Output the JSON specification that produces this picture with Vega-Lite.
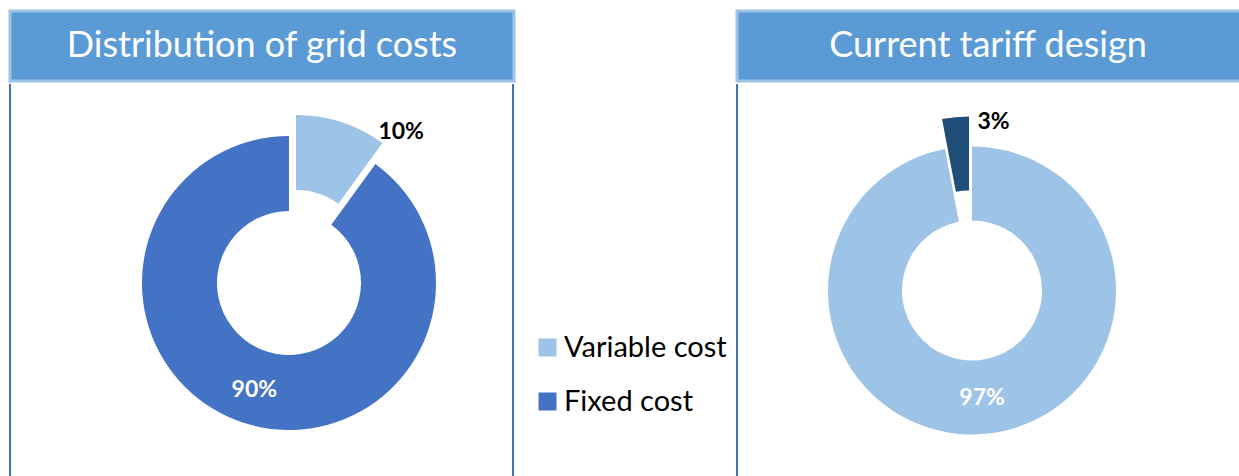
{
  "$schema": "https://vega.github.io/schema/vega-lite/v6.json",
  "padding": {"left": 8, "top": 9, "right": 0, "bottom": 0},
  "background": "white",
  "spacing": 8,
  "resolve": {"scale": {"color": "independent", "theta": "independent"}},
  "hconcat": [
    {
      "spacing": 0,
      "vconcat": [
        {
          "width": 504,
          "height": 70,
          "view": {"fill": "#5B9BD5", "stroke": "#9DC3E6", "strokeWidth": 3},
          "data": {"values": [{"t": "Distribution of grid costs"}]},
          "mark": {"type": "text", "font": "Lato", "fontSize": 36, "color": "white", "baseline": "middle", "align": "center"},
          "encoding": {"text": {"field": "t"}}
        },
        {
          "width": 503,
          "height": 396,
          "view": {"fill": "white", "stroke": "#4472C4", "strokeWidth": 2, "strokeDash": [0, 503, 1300]},
          "data": {"values": [
            {"cat": "Variable cost", "pct": 0.10},
            {"cat": "Fixed cost", "pct": 0.90}
          ]},
          "encoding": {
            "theta": {"field": "pct", "type": "quantitative", "stack": true},
            "order": {"field": "cat", "sort": "descending"}
          },
          "layer": [
            {
              "mark": {"type": "arc", "radius": 147, "radius2": 72, "xOffset": 27.5, "yOffset": 1},
              "encoding": {
                "color": {"field": "cat", "type": "nominal",
                  "scale": {"domain": ["Variable cost", "Fixed cost"], "range": ["#9DC3E6", "#4472C4"]},
                  "legend": {"orient": "none", "legendX": 523, "legendY": 322, "title": null, "symbolType": "square", "symbolSize": 324, "symbolStrokeWidth": 0, "labelFont": "Lato", "labelFontSize": 29, "labelColor": "black", "labelOffset": 2, "labelLimit": 400, "rowPadding": 24}},
                "opacity": {"condition": {"test": "datum.cat === 'Variable cost'", "value": 0}, "value": 1}
              }
            },
            {
              "mark": {"type": "arc", "radius": 147, "radius2": 72, "xOffset": 34.5, "yOffset": -20},
              "encoding": {
                "color": {"field": "cat", "type": "nominal"},
                "opacity": {"condition": {"test": "datum.cat === 'Variable cost'", "value": 1}, "value": 0}
              }
            },
            {
              "mark": {"type": "text", "radius": 112, "xOffset": 27.5, "yOffset": 1, "font": "Lato", "fontWeight": "bold", "fontSize": 23, "color": "white", "baseline": "middle", "align": "center"},
              "encoding": {
                "text": {"field": "pct", "type": "quantitative", "format": ".0%"},
                "opacity": {"condition": {"test": "datum.cat === 'Fixed cost'", "value": 1}, "value": 0}
              }
            },
            {
              "mark": {"type": "text", "radius": 147, "xOffset": 34.5, "yOffset": -20, "dx": 37, "dy": 10, "font": "Lato", "fontWeight": "bold", "fontSize": 23, "color": "black", "baseline": "middle", "align": "left"},
              "encoding": {
                "text": {"field": "pct", "type": "quantitative", "format": ".0%"},
                "opacity": {"condition": {"test": "datum.cat === 'Variable cost'", "value": 1}, "value": 0}
              }
            }
          ]
        }
      ]
    },
    {
      "spacing": 0,
      "vconcat": [
        {
          "width": 502,
          "height": 70,
          "view": {"fill": "#5B9BD5", "stroke": "#9DC3E6", "strokeWidth": 3, "strokeDash": [502, 70, 572]},
          "data": {"values": [{"t": "Current tariff design"}]},
          "mark": {"type": "text", "font": "Lato", "fontSize": 36, "color": "white", "baseline": "middle", "align": "center"},
          "encoding": {"text": {"field": "t"}}
        },
        {
          "width": 502,
          "height": 396,
          "view": {"fill": "white", "stroke": "#4472C4", "strokeWidth": 2, "strokeDash": [0, 1400, 401]},
          "data": {"values": [
            {"cat": "Variable cost", "pct": 0.97},
            {"cat": "Fixed cost", "pct": 0.03}
          ]},
          "encoding": {
            "theta": {"field": "pct", "type": "quantitative", "stack": true},
            "order": {"field": "cat", "sort": "descending"}
          },
          "layer": [
            {
              "mark": {"type": "arc", "radius": 144, "radius2": 70, "xOffset": -16, "yOffset": 8.5},
              "encoding": {
                "color": {"field": "cat", "type": "nominal",
                  "scale": {"domain": ["Variable cost", "Fixed cost"], "range": ["#9DC3E6", "#1F4E79"]},
                  "legend": null},
                "opacity": {"condition": {"test": "datum.cat === 'Fixed cost'", "value": 0}, "value": 1}
              }
            },
            {
              "mark": {"type": "arc", "radius": 144, "radius2": 70, "xOffset": -19, "yOffset": -21.5},
              "encoding": {
                "color": {"field": "cat", "type": "nominal"},
                "opacity": {"condition": {"test": "datum.cat === 'Fixed cost'", "value": 1}, "value": 0}
              }
            },
            {
              "mark": {"type": "text", "radius": 107.5, "xOffset": -16, "yOffset": 8.5, "font": "Lato", "fontWeight": "bold", "fontSize": 23, "color": "white", "baseline": "middle", "align": "center"},
              "encoding": {
                "text": {"field": "pct", "type": "quantitative", "format": ".0%"},
                "opacity": {"condition": {"test": "datum.cat === 'Variable cost'", "value": 1}, "value": 0}
              }
            },
            {
              "mark": {"type": "text", "radius": 144, "xOffset": -19, "yOffset": -21.5, "dx": 22, "dy": 5, "font": "Lato", "fontWeight": "bold", "fontSize": 23, "color": "black", "baseline": "middle", "align": "left"},
              "encoding": {
                "text": {"field": "pct", "type": "quantitative", "format": ".0%"},
                "opacity": {"condition": {"test": "datum.cat === 'Fixed cost'", "value": 1}, "value": 0}
              }
            }
          ]
        }
      ]
    }
  ]
}
